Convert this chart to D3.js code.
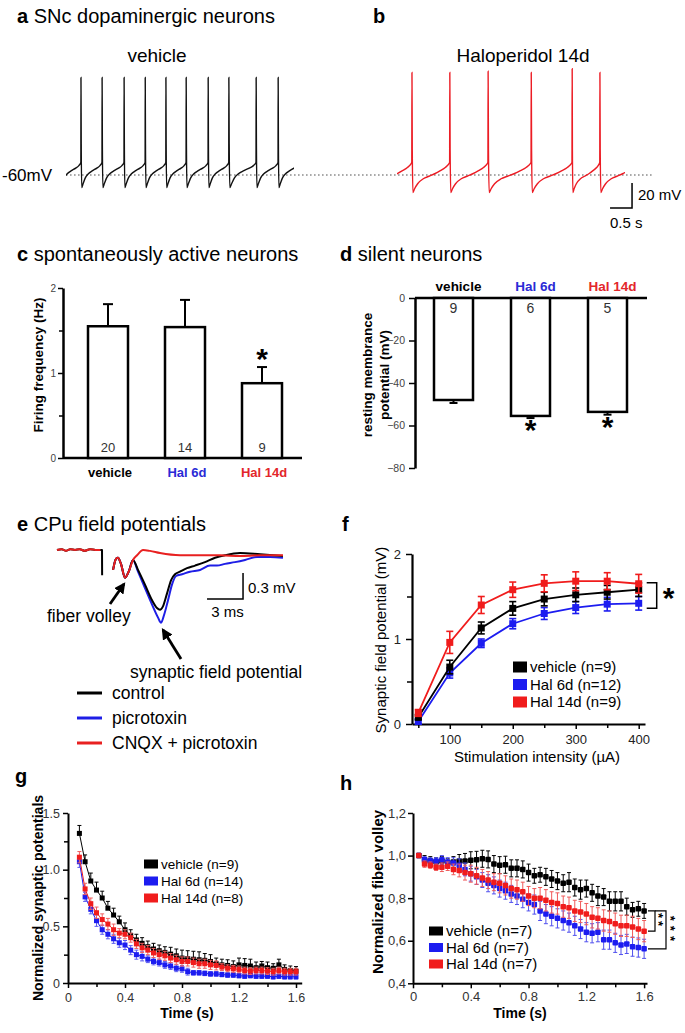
<!DOCTYPE html>
<html>
<head>
<meta charset="utf-8">
<script src="https://cdn.jsdelivr.net/npm/d3@7/dist/d3.min.js"></script>
<style>
html,body{margin:0;padding:0;background:#fff;}
svg{display:block;}
</style>
</head>
<body>
<svg id="fig" width="685" height="1033"></svg>
<script>
// ================= DATA =================
// a / b : spontaneous firing traces (spike times in s, spike peaks in mV)
const vehicleSpikeTimes = [0.34, 0.82, 1.32, 1.80, 2.27, 2.73, 3.23, 3.70, 4.32, 4.82];
const vehicleSpikePeaks = [18, 18, 18, 18, 18, 18, 18, 18, 18, 18];
const halSpikeTimes = [0.34, 1.20, 2.07, 3.05, 3.98, 4.61];
const halSpikePeaks = [22, 22, 23, 22, 25, 22];
const traceDuration = 5.18;
// interspike waveform: [fraction of interval, mV]
const vehicleISIShape = [[0.012,-35],[0.035,-70],[0.1,-67],[0.2,-62.5],[0.35,-59],[0.55,-56.5],[0.75,-54.5],[0.9,-52.5],[0.995,-50]];
const halISIShape = [[0.008,-40],[0.025,-74],[0.07,-71],[0.15,-67],[0.3,-63],[0.45,-61],[0.6,-59],[0.75,-56.5],[0.88,-54],[0.995,-50]];

// c / d : bar charts
const groups = ["vehicle", "Hal 6d", "Hal 14d"];
const firingHz = [1.55, 1.54, 0.88];
const firingErr = [0.26, 0.32, 0.19];
const firingN = [20, 14, 9];
const firingSig = ["", "", "*"];
const restingMV = [-48, -55.5, -53.6];
const restingErr = [1.4, 1.0, 1.3];
const restingN = [9, 6, 5];
const restingSig = ["", "*", "*"];

// e : field potential traces (ms, mV)
const ePreT = [0, 0.4, 0.75, 1.1, 1.5, 1.9, 2.3, 2.75, 3.2, 3.6];
const ePreV = [0, 0.01, -0.01, 0.01, 0, 0.01, -0.01, 0.01, 0, 0];
const eArtT = [3.6, 3.75, 3.76];
const eArtV = [0, 0, -0.29];
const eVolleyT = [4.67, 4.92, 5.08, 5.33, 5.67, 6.0, 6.33];
const eVolleyV = [-0.23, -0.10, -0.09, -0.16, -0.32, -0.24, -0.115];
const eControlT = [6.75, 7.33, 7.92, 8.33, 8.58, 8.83, 9.17, 9.5, 9.83, 10.25, 10.83, 11.5, 12.33, 13.17, 14.0, 15.25, 16.92, 18.83];
const eControlV = [-0.23, -0.40, -0.58, -0.67, -0.69, -0.65, -0.50, -0.35, -0.28, -0.25, -0.21, -0.18, -0.14, -0.09, -0.06, -0.035, -0.05, -0.07];
const ePicroT = [6.75, 7.33, 7.92, 8.42, 8.67, 8.92, 9.25, 9.58, 9.92, 10.42, 11.08, 11.92, 12.75, 13.33, 14.0, 14.83, 15.67, 16.67, 17.75, 18.83];
const ePicroV = [-0.25, -0.44, -0.63, -0.78, -0.84, -0.75, -0.58, -0.40, -0.30, -0.28, -0.25, -0.23, -0.18, -0.18, -0.16, -0.14, -0.115, -0.08, -0.08, -0.09];
const eCnqxT = [6.67, 7.17, 7.75, 8.58, 10.25, 11.92, 13.58, 15.25, 16.92, 18.83];
const eCnqxV = [-0.06, 0, -0.01, -0.035, -0.06, -0.06, -0.06, -0.07, -0.06, -0.06];
const eLegend = ["control", "picrotoxin", "CNQX + picrotoxin"];

// f : input-output curves
const fIntensity = [50, 100, 150, 200, 250, 300, 350, 400];
const fVehicle = [0.08, 0.67, 1.13, 1.36, 1.47, 1.52, 1.55, 1.58];
const fVehicleErr = [0.03, 0.08, 0.07, 0.08, 0.08, 0.08, 0.08, 0.08];
const fHal6 = [0.03, 0.60, 0.95, 1.18, 1.30, 1.37, 1.41, 1.42];
const fHal6Err = [0.03, 0.06, 0.05, 0.06, 0.07, 0.07, 0.08, 0.08];
const fHal14 = [0.13, 0.96, 1.40, 1.58, 1.655, 1.68, 1.68, 1.65];
const fHal14Err = [0.04, 0.13, 0.10, 0.09, 0.10, 0.11, 0.10, 0.11];
const fLegend = ["vehicle (n=9)", "Hal 6d (n=12)", "Hal 14d (n=9)"];

// g : normalized synaptic potentials during train
const gTime = [0.08,0.12,0.16,0.20,0.24,0.28,0.32,0.36,0.40,0.44,0.48,0.52,0.56,0.60,0.64,0.68,0.72,0.76,0.80,0.84,0.88,0.92,0.96,1.00,1.04,1.08,1.12,1.16,1.20,1.24,1.28,1.32,1.36,1.40,1.44,1.48,1.52,1.56,1.60];
const gVehicle = [1.32,1.07,0.9,0.82,0.75,0.66,0.6,0.54,0.47,0.42,0.38,0.35,0.32,0.30,0.285,0.27,0.255,0.24,0.22,0.215,0.21,0.205,0.2,0.19,0.17,0.16,0.155,0.145,0.16,0.155,0.15,0.135,0.15,0.135,0.13,0.16,0.12,0.11,0.105];
const gVehicleErr = [0.07,0.06,0.07,0.07,0.06,0.06,0.06,0.05,0.06,0.05,0.05,0.05,0.05,0.05,0.05,0.05,0.06,0.06,0.07,0.07,0.07,0.07,0.06,0.06,0.05,0.05,0.05,0.05,0.06,0.06,0.06,0.05,0.04,0.05,0.04,0.05,0.04,0.04,0.04];
const gHal6 = [1.07,0.76,0.65,0.55,0.47,0.43,0.39,0.355,0.335,0.29,0.25,0.235,0.21,0.19,0.18,0.16,0.15,0.13,0.125,0.1,0.09,0.09,0.085,0.08,0.08,0.075,0.07,0.07,0.065,0.06,0.065,0.06,0.06,0.06,0.055,0.06,0.055,0.055,0.055];
const gHal6Err = [0.05,0.04,0.04,0.05,0.04,0.04,0.04,0.04,0.04,0.04,0.04,0.04,0.03,0.03,0.03,0.03,0.03,0.03,0.03,0.03,0.02,0.02,0.02,0.02,0.02,0.02,0.02,0.02,0.02,0.02,0.02,0.02,0.02,0.02,0.02,0.02,0.02,0.02,0.02];
const gHal14 = [1.11,0.83,0.7,0.62,0.56,0.52,0.47,0.44,0.43,0.4,0.345,0.31,0.29,0.265,0.25,0.24,0.22,0.205,0.19,0.19,0.18,0.17,0.17,0.16,0.155,0.14,0.13,0.125,0.12,0.11,0.105,0.11,0.11,0.105,0.1,0.11,0.1,0.1,0.1];
const gHal14Err = [0.05,0.05,0.05,0.05,0.05,0.05,0.05,0.04,0.04,0.04,0.04,0.04,0.04,0.04,0.04,0.04,0.04,0.04,0.04,0.04,0.04,0.04,0.04,0.04,0.04,0.03,0.03,0.03,0.03,0.03,0.03,0.03,0.03,0.03,0.03,0.03,0.03,0.03,0.03];
const gLegend = ["vehicle (n=9)", "Hal 6d (n=14)", "Hal 14d (n=8)"];

// h : normalized fiber volley during train
const hTime = [0.04,0.08,0.12,0.16,0.20,0.24,0.28,0.32,0.36,0.40,0.44,0.48,0.52,0.56,0.60,0.64,0.68,0.72,0.76,0.80,0.84,0.88,0.92,0.96,1.00,1.04,1.08,1.12,1.16,1.20,1.24,1.28,1.32,1.36,1.40,1.44,1.48,1.52,1.56,1.60];
const hVehicle = [1.00,0.98,0.975,0.97,0.975,0.965,0.97,0.975,0.975,0.978,0.98,0.985,0.982,0.96,0.955,0.957,0.94,0.94,0.935,0.92,0.905,0.91,0.9,0.89,0.88,0.87,0.875,0.85,0.84,0.845,0.825,0.81,0.805,0.785,0.785,0.785,0.76,0.745,0.75,0.74];
const hVehicleErr = [0,0.02,0.02,0.02,0.02,0.02,0.025,0.03,0.035,0.04,0.04,0.04,0.04,0.04,0.04,0.04,0.04,0.04,0.04,0.04,0.035,0.035,0.04,0.04,0.04,0.04,0.045,0.04,0.045,0.04,0.04,0.045,0.04,0.045,0.045,0.045,0.04,0.035,0.035,0.035];
const hHal6 = [1.00,0.98,0.975,0.975,0.98,0.97,0.965,0.955,0.935,0.915,0.9,0.885,0.87,0.86,0.845,0.835,0.82,0.81,0.795,0.78,0.77,0.74,0.725,0.715,0.705,0.695,0.685,0.67,0.655,0.64,0.635,0.64,0.605,0.605,0.59,0.58,0.585,0.572,0.568,0.562];
const hHal6Err = [0,0.015,0.015,0.015,0.02,0.02,0.025,0.03,0.03,0.035,0.035,0.035,0.04,0.04,0.04,0.04,0.04,0.04,0.04,0.04,0.045,0.045,0.045,0.045,0.045,0.045,0.045,0.045,0.045,0.045,0.045,0.045,0.045,0.045,0.045,0.045,0.045,0.045,0.045,0.045];
const hHal14 = [1.00,0.96,0.955,0.945,0.945,0.95,0.935,0.93,0.92,0.915,0.905,0.895,0.885,0.875,0.87,0.86,0.845,0.84,0.83,0.81,0.80,0.80,0.79,0.78,0.775,0.76,0.755,0.74,0.735,0.725,0.71,0.705,0.695,0.69,0.68,0.67,0.67,0.665,0.655,0.645];
const hHal14Err = [0,0.015,0.015,0.015,0.02,0.02,0.025,0.03,0.035,0.04,0.04,0.04,0.04,0.04,0.045,0.045,0.045,0.045,0.045,0.045,0.045,0.05,0.05,0.05,0.05,0.05,0.05,0.05,0.05,0.05,0.05,0.05,0.05,0.05,0.05,0.05,0.05,0.05,0.05,0.05];
const hLegend = ["vehicle (n=7)", "Hal 6d (n=7)", "Hal 14d (n=7)"];
const hSigLabels = ["**", "***"];

// ================= STYLE =================
const FONT = '"Liberation Sans", Arial, Helvetica, sans-serif';
const BLACK = "#000", RED = "#f01c1c", BLUE = "#1c1cf0";
const RED_T = "#e3262b", BLUE_T = "#2a2ad6";
const groupTextColors = [BLACK, BLUE_T, RED_T];
const seriesColors = [BLACK, BLUE, RED];

const svg = d3.select("#fig");
svg.append("rect").attr("width", 685).attr("height", 1033).attr("fill", "#fff");

function txt(x, y, s, o = {}) {
  const t = svg.append("text").attr("x", x).attr("y", y).text(s)
    .attr("font-family", FONT).attr("font-size", o.size || 14)
    .attr("fill", o.fill || "#000");
  if (o.weight) t.attr("font-weight", o.weight);
  if (o.anchor) t.attr("text-anchor", o.anchor);
  if (o.rotate) t.attr("transform", `rotate(-90 ${x} ${y})`);
  return t;
}
function title(x, y, letter, rest) {
  const t = svg.append("text").attr("x", x).attr("y", y)
    .attr("font-family", FONT).attr("font-size", 20).attr("fill", "#000");
  t.append("tspan").attr("font-weight", "bold").text(letter);
  if (rest) t.append("tspan").text("\u00a0" + rest);
}
function styleAxis(g, fs, col, sw) {
  g.attr("font-family", FONT).attr("font-size", fs);
  g.select(".domain").attr("stroke", "#000").attr("stroke-width", sw || 2);
  g.selectAll(".tick line").attr("stroke", "#000").attr("stroke-width", 1.5);
  g.selectAll(".tick text").attr("fill", col).attr("font-family", FONT).attr("font-size", fs);
}
function yAxis(scale, x, major, minor, fmt, o) {
  const g = svg.append("g").attr("transform", `translate(${x},0)`)
    .call(d3.axisLeft(scale).tickValues(major).tickFormat(fmt).tickSize(o.size).tickPadding(o.pad).tickSizeOuter(0));
  styleAxis(g, o.fs, o.col, o.sw);
  if (minor) {
    const m = svg.append("g").attr("transform", `translate(${x},0)`)
      .call(d3.axisLeft(scale).tickValues(minor).tickFormat("").tickSize(o.msize || o.size - 2).tickSizeOuter(0));
    m.select(".domain").remove();
    m.selectAll(".tick line").attr("stroke", "#000").attr("stroke-width", 1.5);
  }
  return g;
}
function xAxis(scale, y, major, minor, fmt, o) {
  const g = svg.append("g").attr("transform", `translate(0,${y})`)
    .call(d3.axisBottom(scale).tickValues(major).tickFormat(fmt).tickSize(o.size).tickPadding(o.pad).tickSizeOuter(0));
  styleAxis(g, o.fs, o.col, o.sw);
  if (minor) {
    const m = svg.append("g").attr("transform", `translate(0,${y})`)
      .call(d3.axisBottom(scale).tickValues(minor).tickFormat("").tickSize(o.msize || o.size - 2).tickSizeOuter(0));
    m.select(".domain").remove();
    m.selectAll(".tick line").attr("stroke", "#000").attr("stroke-width", 1.5);
  }
  return g;
}

// ================= a / b =================
title(17, 23, "a", "SNc dopaminergic neurons");
title(373, 23, "b", null);
txt(157, 62, "vehicle", { size: 19, anchor: "middle" });
txt(523, 62, "Haloperidol 14d", { size: 19, anchor: "middle" });

const xVeh = d3.scaleLinear([0, traceDuration], [66, 294]);
const xHal = d3.scaleLinear([0, traceDuration], [397, 625]);
const yMem = d3.scaleLinear([-60, -40], [175, 150]);

function buildTrace(times, peaks, shape) {
  const n = times.length;
  const isi0 = times[1] - times[0];
  const starts = [times[0] - isi0, ...times];
  const ends = [...times, times[n - 1] + isi0];
  const pts = [];
  for (let i = 0; i < starts.length; i++) {
    const a = starts[i], b = ends[i];
    if (i > 0) pts.push([a, peaks[i - 1]]);
    shape.forEach(([f, v]) => pts.push([a + f * (b - a), v]));
  }
  return pts;
}
const defs = svg.append("defs");
function clipRect(id, x0, x1) {
  defs.append("clipPath").attr("id", id).append("rect")
    .attr("x", x0).attr("y", 0).attr("width", x1 - x0).attr("height", 1033);
}
clipRect("clipVeh", xVeh(0), xVeh(traceDuration));
clipRect("clipHal", xHal(0), xHal(traceDuration));

// dotted -60 mV line
svg.append("line").attr("x1", xVeh(0)).attr("x2", xHal(traceDuration) + 28)
  .attr("y1", yMem(-60)).attr("y2", yMem(-60))
  .attr("stroke", "#555").attr("stroke-width", 1.2).attr("stroke-dasharray", "1.6,2.4");
txt(2, 181, "-60mV", { size: 17 });

const memLineV = d3.line().x(d => xVeh(d[0])).y(d => yMem(d[1])).curve(d3.curveMonotoneX);
const memLineH = d3.line().x(d => xHal(d[0])).y(d => yMem(d[1])).curve(d3.curveMonotoneX);
svg.append("path").attr("clip-path", "url(#clipVeh)")
  .attr("d", memLineV(buildTrace(vehicleSpikeTimes, vehicleSpikePeaks, vehicleISIShape)))
  .attr("fill", "none").attr("stroke", "#111").attr("stroke-width", 1.4);
svg.append("path").attr("clip-path", "url(#clipHal)")
  .attr("d", memLineH(buildTrace(halSpikeTimes, halSpikePeaks, halISIShape)))
  .attr("fill", "none").attr("stroke", "#ec1c24").attr("stroke-width", 1.4);

// scale bar 0.5 s / 20 mV
{
  const t0 = 4.84, t1 = 5.34, v0 = -86.4, v1 = -66.4;
  svg.append("path")
    .attr("d", `M${xHal(t0)},${yMem(v0)}H${xHal(t1)}V${yMem(v1)}`)
    .attr("fill", "none").attr("stroke", "#000").attr("stroke-width", 1.5);
  txt(638, 200, "20 mV", { size: 15 });
  txt(610, 228, "0.5 s", { size: 15 });
}

// ================= c =================
title(17, 261, "c", "spontaneously active neurons");
const xc = d3.scalePoint(groups, [108, 262]);
const yc = d3.scaleLinear([0, 2], [458, 288]);
yAxis(yc, 63, [0, 1, 2], [0.5, 1.5], d3.format("d"), { size: 5, pad: 2, fs: 10, col: "#444", sw: 2.5, msize: 4 });
svg.append("line").attr("x1", 63).attr("x2", 302).attr("y1", yc(0)).attr("y2", yc(0))
  .attr("stroke", "#000").attr("stroke-width", 2.5);
groups.forEach((gname, i) => {
  const cx = xc(gname), v = firingHz[i], e = firingErr[i];
  svg.append("line").attr("x1", cx).attr("x2", cx).attr("y1", yc(v)).attr("y2", yc(v + e))
    .attr("stroke", "#000").attr("stroke-width", 2);
  svg.append("line").attr("x1", cx - 5).attr("x2", cx + 5).attr("y1", yc(v + e)).attr("y2", yc(v + e))
    .attr("stroke", "#000").attr("stroke-width", 2);
  svg.append("rect").attr("x", cx - 20).attr("y", yc(v)).attr("width", 40).attr("height", yc(0) - yc(v))
    .attr("fill", "#fff").attr("stroke", "#000").attr("stroke-width", 2.5);
  txt(cx, yc(0) - 6, firingN[i], { size: 13, fill: "#333", anchor: "middle" });
  txt(cx + 2, 477, gname, { size: 13, weight: "bold", fill: groupTextColors[i], anchor: "middle" });
  if (firingSig[i]) txt(cx, yc(v + e) - 10, firingSig[i], { size: 30, weight: "bold", anchor: "middle" }).attr("dy", "0.4em");
});
txt(43, 365, "Firing frequency (Hz)", { size: 13.5, weight: "bold", anchor: "middle", rotate: true });

// ================= d =================
title(340, 261, "d", "silent neurons");
const xd = d3.scalePoint(groups, [453.5, 607.5]);
const yd = d3.scaleLinear([0, -80], [298, 468]);
yAxis(yd, 415, [0, -20, -40, -60, -80], null, d3.format("d"), { size: 6, pad: 4, fs: 10.5, col: "#444", sw: 2.5 });
svg.append("line").attr("x1", 415).attr("x2", 647).attr("y1", yd(0)).attr("y2", yd(0))
  .attr("stroke", "#000").attr("stroke-width", 2.5);
groups.forEach((gname, i) => {
  const cx = xd(gname), v = restingMV[i], e = restingErr[i];
  svg.append("line").attr("x1", cx).attr("x2", cx).attr("y1", yd(v)).attr("y2", yd(v - e))
    .attr("stroke", "#000").attr("stroke-width", 2);
  svg.append("line").attr("x1", cx - 4).attr("x2", cx + 4).attr("y1", yd(v - e)).attr("y2", yd(v - e))
    .attr("stroke", "#000").attr("stroke-width", 2);
  svg.append("rect").attr("x", cx - 19.5).attr("y", yd(0)).attr("width", 39).attr("height", yd(v) - yd(0))
    .attr("fill", "#fff").attr("stroke", "#000").attr("stroke-width", 2.5);
  txt(cx, yd(0) + 15, restingN[i], { size: 14, fill: "#333", anchor: "middle" });
  txt(cx + 5, 291, gname, { size: 13.5, weight: "bold", fill: groupTextColors[i], anchor: "middle" });
  if (restingSig[i]) txt(cx, yd(v - e) + 10, restingSig[i], { size: 30, weight: "bold", anchor: "middle" }).attr("dy", "0.4em");
});
txt(372, 375, "resting membrance", { size: 13.5, weight: "bold", anchor: "middle", rotate: true });
txt(389, 375, "potential (mV)", { size: 13.5, weight: "bold", anchor: "middle", rotate: true });

// ================= e =================
title(17, 531, "e", "CPu field potentials");
const xe = d3.scaleLinear([0, 18.83], [57, 283]);
const ye = d3.scaleLinear([0, -0.3], [550, 576]);
const eLine = d3.line().x(d => xe(d[0])).y(d => ye(d[1])).curve(d3.curveMonotoneX);
const eLin = d3.line().x(d => xe(d[0])).y(d => ye(d[1]));
const zip = (t, v) => t.map((x, i) => [x, v[i]]);
function ePath(pts, col, curve) {
  svg.append("path").attr("d", (curve || eLine)(pts)).attr("fill", "none")
    .attr("stroke", col).attr("stroke-width", 2).attr("stroke-linejoin", "round");
}
// picrotoxin (blue)
ePath(zip(eVolleyT, eVolleyV).concat(zip(ePicroT, ePicroV)), "#1e1ee6");
// control (black)
ePath(zip(ePreT, ePreV), "#000");
ePath(zip(eArtT, eArtV), "#000", eLin);
ePath(zip(eVolleyT, eVolleyV).concat(zip(eControlT, eControlV)), "#000");
// CNQX + picrotoxin (red)
ePath(zip(ePreT, ePreV), "#e82020");
ePath(zip(eVolleyT, eVolleyV).concat(zip(eCnqxT, eCnqxV)), "#e82020");
// scale bar 3 ms / 0.3 mV
{
  const t0 = 12.5, v0 = -0.565;
  svg.append("path").attr("d", `M${xe(t0)},${ye(v0)}H${xe(t0 + 3)}V${ye(v0 + 0.3)}`)
    .attr("fill", "none").attr("stroke", "#000").attr("stroke-width", 1.5);
  txt(xe(t0 + 3) + 5, 593, "0.3 mV", { size: 15 });
  txt(xe(t0 + 1.7), 617, "3 ms", { size: 15, anchor: "middle" });
}
// arrows
defs.append("marker").attr("id", "arrowHead").attr("viewBox", "0 0 10 10").attr("refX", 8).attr("refY", 5)
  .attr("markerWidth", 4).attr("markerHeight", 4).attr("orient", "auto")
  .append("path").attr("d", "M0,0L10,5L0,10Z").attr("fill", "#000");
svg.append("line").attr("x1", 110).attr("y1", 604).attr("x2", 124).attr("y2", 584)
  .attr("stroke", "#000").attr("stroke-width", 2.8).attr("marker-end", "url(#arrowHead)");
svg.append("line").attr("x1", 181).attr("y1", 659).attr("x2", 163).attr("y2", 630)
  .attr("stroke", "#000").attr("stroke-width", 2.8).attr("marker-end", "url(#arrowHead)");
txt(47, 622, "fiber volley", { size: 17.5 });
txt(130, 678, "synaptic field potential", { size: 17.5 });
// legend
const eLegColors = ["#000", "#1e1ee6", "#e82020"];
eLegend.forEach((s, i) => {
  const y = 693 + i * 25;
  svg.append("line").attr("x1", 77).attr("x2", 102).attr("y1", y).attr("y2", y)
    .attr("stroke", eLegColors[i]).attr("stroke-width", 3);
  txt(112, y + 6, s, { size: 17.5 });
});

// ================= generic series drawer =================
function drawSeries(xs, ys, xv, yv, ev, color, o) {
  const g = svg.append("g");
  if (o.line) {
    g.append("path").datum(zip(xv, yv))
      .attr("d", d3.line().x(d => xs(d[0])).y(d => ys(d[1])))
      .attr("fill", "none").attr("stroke", color).attr("stroke-width", o.lw);
  }
  xv.forEach((x, i) => {
    const cx = xs(x), e = ev[i];
    if (e > 0) {
      const yTop = ys(yv[i] + e), yBot = ys(yv[i] - (o.upOnly ? 0 : e));
      g.append("line").attr("x1", cx).attr("x2", cx).attr("y1", yTop).attr("y2", yBot)
        .attr("stroke", o.errColor || color).attr("stroke-width", o.ew);
      g.append("line").attr("x1", cx - o.cap).attr("x2", cx + o.cap).attr("y1", yTop).attr("y2", yTop)
        .attr("stroke", o.errColor || color).attr("stroke-width", o.ew);
      if (!o.upOnly) g.append("line").attr("x1", cx - o.cap).attr("x2", cx + o.cap).attr("y1", yBot).attr("y2", yBot)
        .attr("stroke", o.errColor || color).attr("stroke-width", o.ew);
    }
    g.append("rect").attr("x", cx - o.ms / 2).attr("y", ys(yv[i]) - o.ms / 2)
      .attr("width", o.ms).attr("height", o.ms).attr("fill", color).attr("rx", o.rx || 0);
  });
}
function legend(x, y0, dy, labels, fs, sw, sh) {
  labels.forEach((s, i) => {
    const y = y0 + i * dy;
    svg.append("rect").attr("x", x).attr("y", y - sh / 2).attr("width", sw).attr("height", sh).attr("fill", seriesColors[i]);
    txt(x + sw + 3, y + fs * 0.36, s, { size: fs });
  });
}

// ================= f =================
txt(342, 531, "f", { size: 20, weight: "bold" });
const xf = d3.scaleLinear([40, 410], [412, 645]);
const yf = d3.scaleLinear([0, 2], [724, 554]);
yAxis(yf, 412, [0, 1, 2], [0.5, 1.5], d3.format("d"), { size: 6, pad: 5, fs: 13, col: "#222", sw: 2.2, msize: 5 });
xAxis(xf, 724, [100, 200, 300, 400], [50, 150, 250, 350], d3.format("d"), { size: 5, pad: 6, fs: 13, col: "#222", sw: 2.2, msize: 4 });
drawSeries(xf, yf, fIntensity, fHal6, fHal6Err, BLUE, { line: true, lw: 1.8, ew: 1.6, cap: 3.5, ms: 7 });
drawSeries(xf, yf, fIntensity, fVehicle, fVehicleErr, BLACK, { line: true, lw: 1.8, ew: 1.6, cap: 3.5, ms: 7 });
drawSeries(xf, yf, fIntensity, fHal14, fHal14Err, RED, { line: true, lw: 1.8, ew: 1.6, cap: 3.5, ms: 7 });
legend(513, 667, 17.5, fLegend, 15, 14, 11);
// significance bracket
{
  const xa = xf(400) + 8, xb = xa + 10, ya = yf(fHal14[7]) - 1, yb = yf(fHal6[7]) + 5;
  svg.append("path").attr("d", `M${xa},${ya}H${xb}V${yb}H${xa}`).attr("fill", "none")
    .attr("stroke", "#000").attr("stroke-width", 1.5);
  txt(xb + 12, (ya + yb) / 2, "*", { size: 30, weight: "bold", anchor: "middle" }).attr("dy", "0.4em");
}
txt(386, 640, "Synaptic field potential (mV)", { size: 15, anchor: "middle", rotate: true });
txt(537, 762, "Stimulation intensity (\u00b5A)", { size: 15, anchor: "middle" });

// ================= g =================
txt(15, 783, "g", { size: 20, weight: "bold" });
const xg = d3.scaleLinear([0, 1.64], [68, 301.7]);
const yg = d3.scaleLinear([0, 1.5], [983, 813]);
const fmtDec = d => d === 0 ? "0" : d3.format(".1f")(d);
yAxis(yg, 68, [0, 0.5, 1, 1.5], [0.25, 0.75, 1.25], fmtDec, { size: 5, pad: 3, fs: 12.5, col: "#333", sw: 2, msize: 4 });
xAxis(xg, 983, [0, 0.4, 0.8, 1.2, 1.6], [0.2, 0.6, 1.0, 1.4], fmtDec, { size: 5, pad: 5, fs: 12.5, col: "#333", sw: 2, msize: 4 });
drawSeries(xg, yg, gTime, gVehicle, gVehicleErr, BLACK, { line: true, lw: 1, ew: 1, cap: 2, ms: 5, upOnly: true });
drawSeries(xg, yg, gTime, gHal6, gHal6Err, BLUE, { line: true, lw: 1, ew: 1, cap: 2, ms: 5, errColor: "#5a5af0" });
drawSeries(xg, yg, gTime, gHal14, gHal14Err, RED, { line: true, lw: 1, ew: 1, cap: 2, ms: 5, errColor: "#f06060" });
legend(144, 864, 17, gLegend, 13.5, 14, 9);
txt(43, 898, "Normalized synaptic potentials", { size: 14, weight: "bold", anchor: "middle", rotate: true });
txt(187, 1018, "Time (s)", { size: 14, weight: "bold", anchor: "middle" });

// ================= h =================
txt(340, 790, "h", { size: 20, weight: "bold" });
const xh = d3.scaleLinear([0, 1.62], [413, 647]);
const yh = d3.scaleLinear([0.4, 1.2], [983.3, 813]);
const fmtComma = d => d3.format(".1f")(d).replace(".", ",");
yAxis(yh, 413, [0.4, 0.6, 0.8, 1.0, 1.2], null, fmtComma, { size: 5, pad: 2, fs: 13, col: "#333", sw: 2 });
xAxis(xh, 983.3, [0, 0.4, 0.8, 1.2, 1.6], [0.2, 0.6, 1.0, 1.4], fmtDec, { size: 5, pad: 3, fs: 13, col: "#333", sw: 2, msize: 4 });
drawSeries(xh, yh, hTime, hVehicle, hVehicleErr, BLACK, { ew: 1, cap: 2, ms: 5.5, rx: 1 });
drawSeries(xh, yh, hTime, hHal6, hHal6Err, BLUE, { ew: 1, cap: 2, ms: 5.5, rx: 1, errColor: "#5050ee" });
drawSeries(xh, yh, hTime, hHal14, hHal14Err, RED, { ew: 1, cap: 2, ms: 5.5, rx: 1, errColor: "#f05a5a" });
legend(429, 931, 16.5, hLegend, 15, 14, 9);
{
  const yV = yh(hVehicle[39]), yR = yh(hHal14[39]), yB = yh(hHal6[39]);
  svg.append("path").attr("d", `M648,${yV}H655V${yR}H648`).attr("fill", "none").attr("stroke", "#000").attr("stroke-width", 1.2);
  svg.append("path").attr("d", `M655,${yV}H666V${yB}H648`).attr("fill", "none").attr("stroke", "#000").attr("stroke-width", 1.2);
  // stacked significance stars: each column is one vertical text
  const cols = [{ x: 661, y: (yV + yR) / 2, ls: 3 }, { x: 673, y: (yV + yB) / 2 + 1, ls: 5 }];
  hSigLabels.forEach((s, i) => {
    const c = cols[i], tx = c.x - 7.4;
    svg.append("text").attr("x", tx).attr("y", c.y).text(s)
      .attr("font-family", FONT).attr("font-size", 13).attr("font-weight", "bold")
      .attr("text-anchor", "middle").attr("letter-spacing", c.ls)
      .attr("transform", `rotate(90 ${tx} ${c.y})`);
  });
}
txt(383, 892, "Normalized fiber volley", { size: 15, weight: "bold", anchor: "middle", rotate: true });
txt(520, 1018, "Time (s)", { size: 14, weight: "bold", anchor: "middle" });
</script>
</body>
</html>
